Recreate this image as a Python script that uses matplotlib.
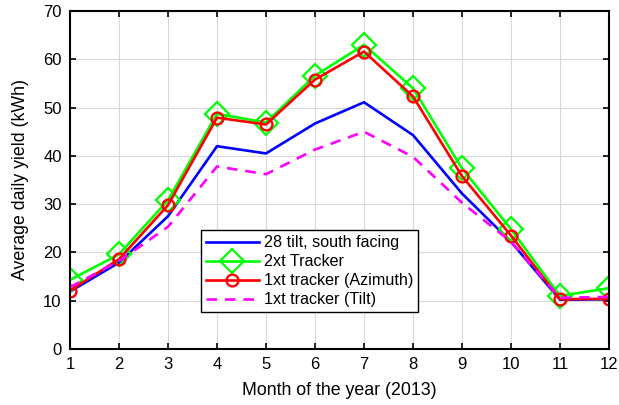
import numpy as np
import matplotlib.pyplot as plt

plt.rcParams['font.family'] = ['Liberation Sans', 'DejaVu Sans']

months = np.arange(1, 13)
fixed_tilt = [11.9, 17.9, 27.5, 42.0, 40.5, 46.7, 51.1, 44.3, 32.2, 22.2, 10.2, 10.3]
two_axis = [14.3, 19.6, 30.8, 48.7, 46.9, 56.6, 63.0, 54.0, 37.4, 24.8, 11.0, 12.6]
one_axis_azimuth = [12.1, 18.6, 29.8, 47.9, 46.5, 55.8, 61.6, 52.3, 35.8, 23.5, 10.3, 10.4]
one_axis_tilt = [12.8, 18.2, 25.3, 37.8, 36.2, 41.3, 45.0, 39.8, 30.3, 22.2, 10.6, 10.8]

fig = plt.figure(figsize=(6.19, 4.05), dpi=100)
ax = fig.add_axes([70 / 619, 56 / 405, 539 / 619, 338 / 405])

ax.plot(months, fixed_tilt, color='#0000ff', lw=1.9, label='28 tilt, south facing')
ax.plot(months, two_axis, color='#00ff00', lw=1.9, marker='D', ms=12,
        mfc='none', mew=1.6, label='2xt Tracker')
ax.plot(months, one_axis_azimuth, color='#ff0000', lw=1.9, marker='o', ms=8.5,
        mfc='none', mew=1.7, label='1xt tracker (Azimuth)')
ax.plot(months, one_axis_tilt, color='#ff00ff', lw=1.9, ls=(0, (4, 3)),
        label='1xt tracker (Tilt)')

ax.set_xlim(1, 12)
ax.set_ylim(0, 70)
ax.set_xticks(months)
ax.set_yticks(np.arange(0, 71, 10))
ax.grid(True, color='#d9d9d9', lw=0.8)
ax.set_axisbelow(True)
ax.tick_params(direction='in', top=True, right=True, labelsize=12, length=4,
               width=1.2, pad=6)
for s in ax.spines.values():
    s.set_linewidth(1.5)

ax.set_xlabel('Month of the year (2013)', fontsize=12.8, labelpad=7)
ax.set_ylabel('Average daily yield (kWh)', fontsize=12.8, labelpad=10)

leg = ax.legend(loc='lower left', bbox_to_anchor=(0.243, 0.109), fontsize=11.6,
                fancybox=False, framealpha=1, edgecolor='black',
                borderpad=0.3, labelspacing=0.25, handlelength=3.3,
                handletextpad=0.3, borderaxespad=0)
leg.get_frame().set_linewidth(1.0)

fig.savefig('out.png', dpi=100)
